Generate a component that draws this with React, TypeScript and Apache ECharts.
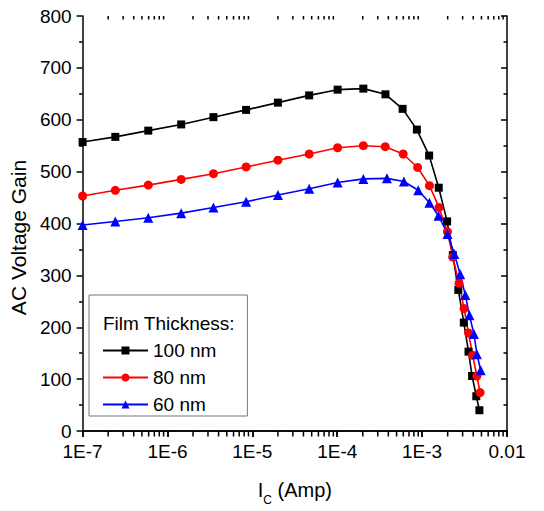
import React, { useEffect, useRef } from "react";
import * as echarts from "echarts";

const FONT = "'Liberation Sans', Arial, sans-serif";

const xTickLabels = ["1E-7", "1E-6", "1E-5", "1E-4", "1E-3", "0.01"];
const xDecades = [1e-7, 1e-6, 1e-5, 1e-4, 1e-3];
const xMinorMultipliers = [2, 3, 4, 5, 6, 7, 8, 9];

const legendTitle = "Film Thickness:";
const seriesNames = ["100 nm", "80 nm", "60 nm"];

const blackX = [1e-7, 2.43e-7, 5.94e-7, 1.45e-6, 3.48e-6, 8.44e-6, 2.0e-5, 4.67e-5, 1.01e-4, 2.03e-4, 3.7e-4, 5.89e-4, 8.67e-4, 1.21e-3, 1.57e-3, 1.97e-3, 2.3e-3, 2.67e-3, 3.1e-3, 3.52e-3, 3.88e-3, 4.35e-3, 4.73e-3];
const blackY = [557, 567, 579, 591, 605, 619, 633, 647, 658, 660, 649, 621, 581, 531, 469, 404, 339, 272, 209, 153, 106, 67, 40];

const redX = [1e-7, 2.43e-7, 5.94e-7, 1.45e-6, 3.48e-6, 8.44e-6, 2.0e-5, 4.67e-5, 1.01e-4, 2.03e-4, 3.68e-4, 5.98e-4, 8.85e-4, 1.22e-3, 1.58e-3, 1.99e-3, 2.3e-3, 2.72e-3, 3.12e-3, 3.52e-3, 3.94e-3, 4.42e-3, 4.82e-3];
const redY = [453, 464, 474, 485, 496, 509, 522, 534, 546, 550, 548, 534, 508, 473, 431, 384, 335, 285, 236, 189, 146, 106, 74];

const blueX = [1e-7, 2.43e-7, 5.94e-7, 1.45e-6, 3.48e-6, 8.44e-6, 2.0e-5, 4.67e-5, 1.01e-4, 2.03e-4, 3.85e-4, 6.1e-4, 9.0e-4, 1.22e-3, 1.56e-3, 1.99e-3, 2.4e-3, 2.81e-3, 3.23e-3, 3.61e-3, 4.08e-3, 4.42e-3, 4.9e-3];
const blueY = [397, 404, 411, 420, 431, 442, 455, 467, 479, 486, 487, 481, 464, 440, 415, 380, 341, 302, 262, 223, 187, 148, 117];

const toPairs = (xs: number[], ys: number[]) => xs.map((x, i) => [x, ys[i]]);

export default function App() {
  const ref = useRef<HTMLDivElement>(null);

  useEffect(() => {
    if (!ref.current) return;
    const chart = echarts.init(ref.current, null, { renderer: "svg" });

    const minorValues: number[] = [];
    xDecades.forEach((d) => {
      xMinorMultipliers.forEach((m) => minorValues.push(m * d));
    });

    const axisLine = { show: true, lineStyle: { color: "#000", width: 1.5 } };
    const tickLine = { color: "#000", width: 1.5 };
    const common = { fontFamily: FONT, color: "#000" };
    const MINOR_LEN = 3.5;
    const GRID = { left: 80, right: 37, top: 16, bottom: 79 };

    chart.setOption({
      animation: false,
      backgroundColor: "#fff",
      textStyle: { fontFamily: FONT },
      title: {
        text: legendTitle,
        left: 103,
        top: 314,
        padding: 0,
        textStyle: { ...common, fontSize: 19, fontWeight: "normal" },
        z: 10,
      },
      legend: {
        data: seriesNames,
        orient: "vertical",
        left: 89,
        top: 295,
        padding: [46, 31, 2, 13],
        itemWidth: 45,
        itemHeight: 10,
        itemGap: 8,
        borderColor: "#777",
        borderWidth: 1,
        backgroundColor: "#fff",
        textStyle: { ...common, fontSize: 19 },
        selectedMode: false,
      },
      grid: GRID,
      xAxis: [
        {
          type: "log",
          logBase: 10,
          min: 1e-7,
          max: 1e-2,
          position: "bottom",
          axisLine,
          axisTick: { show: true, inside: false, length: 6, lineStyle: tickLine },
          axisLabel: {
            ...common,
            fontSize: 19,
            margin: 11,
            formatter: (v: number) => xTickLabels[Math.round(Math.log10(v)) + 7] ?? "",
          },
          splitLine: { show: false },
          name: "{a|I}{b|C}{a| (Amp)}",
          nameLocation: "middle",
          nameGap: 49,
          nameTextStyle: {
            rich: {
              a: { ...common, fontSize: 20, lineHeight: 20, verticalAlign: "top" },
              b: { ...common, fontSize: 12, lineHeight: 40 },
            },
          },
        },
        {
          type: "log",
          logBase: 10,
          min: 1e-7,
          max: 1e-2,
          position: "top",
          axisLine,
          axisTick: { show: true, inside: true, length: 6, lineStyle: tickLine },
          axisLabel: { show: false },
          splitLine: { show: false },
        },
      ],
      yAxis: [
        {
          type: "value",
          min: 0,
          max: 800,
          interval: 100,
          position: "left",
          axisLine,
          axisTick: { show: true, inside: false, length: 6, lineStyle: tickLine },
          minorTick: { show: true, splitNumber: 2, length: MINOR_LEN, lineStyle: tickLine },
          axisLabel: { ...common, fontSize: 19, margin: 11 },
          splitLine: { show: false },
          name: "AC Voltage Gain",
          nameLocation: "middle",
          nameGap: 50,
          nameTextStyle: { ...common, fontSize: 21, padding: [0, 28, 0, 0] },
        },
        {
          type: "value",
          min: 0,
          max: 800,
          interval: 100,
          position: "right",
          axisLine,
          axisTick: { show: true, inside: true, length: 6, lineStyle: tickLine },
          minorTick: { show: true, splitNumber: 2, length: MINOR_LEN, lineStyle: tickLine },
          axisLabel: { show: false },
          splitLine: { show: false },
        },
      ],
      series: [
        {
          name: "xMinorTicks",
          type: "custom",
          xAxisIndex: 0,
          yAxisIndex: 0,
          silent: true,
          clip: false,
          z: 20,
          data: minorValues.map((v) => [v, 400]),
          renderItem: (params: any, api: any) => {
            const x = api.coord([api.value(0), 400])[0];
            const yTop = GRID.top;
            const yBottom = api.getHeight() - GRID.bottom;
            return {
              type: "group",
              children: [
                {
                  type: "line",
                  shape: { x1: x, y1: yTop, x2: x, y2: yTop + MINOR_LEN },
                  style: { stroke: "#000", lineWidth: 1.5 },
                },
                {
                  type: "line",
                  shape: { x1: x, y1: yBottom - 1, x2: x, y2: yBottom + MINOR_LEN + 1 },
                  style: { stroke: "#000", lineWidth: 1.5 },
                },
              ],
            };
          },
        },
        {
          name: seriesNames[0],
          type: "line",
          xAxisIndex: 0,
          yAxisIndex: 0,
          data: toPairs(blackX, blackY),
          symbol: "rect",
          symbolSize: 8,
          itemStyle: { color: "#000" },
          lineStyle: { color: "#000", width: 1.6 },
        },
        {
          name: seriesNames[1],
          type: "line",
          xAxisIndex: 0,
          yAxisIndex: 0,
          data: toPairs(redX, redY),
          symbol: "circle",
          symbolSize: 9,
          itemStyle: { color: "#ff0000" },
          lineStyle: { color: "#ff0000", width: 1.6 },
        },
        {
          name: seriesNames[2],
          type: "line",
          xAxisIndex: 0,
          yAxisIndex: 0,
          data: toPairs(blueX, blueY),
          symbol: "triangle",
          symbolSize: 10,
          itemStyle: { color: "#0000ff" },
          lineStyle: { color: "#0000ff", width: 1.6 },
        },
      ],
    });

    return () => chart.dispose();
  }, []);

  return (
    <div
      ref={ref}
      style={{ position: "fixed", left: 0, top: 0, width: 544, height: 511 }}
    />
  );
}
